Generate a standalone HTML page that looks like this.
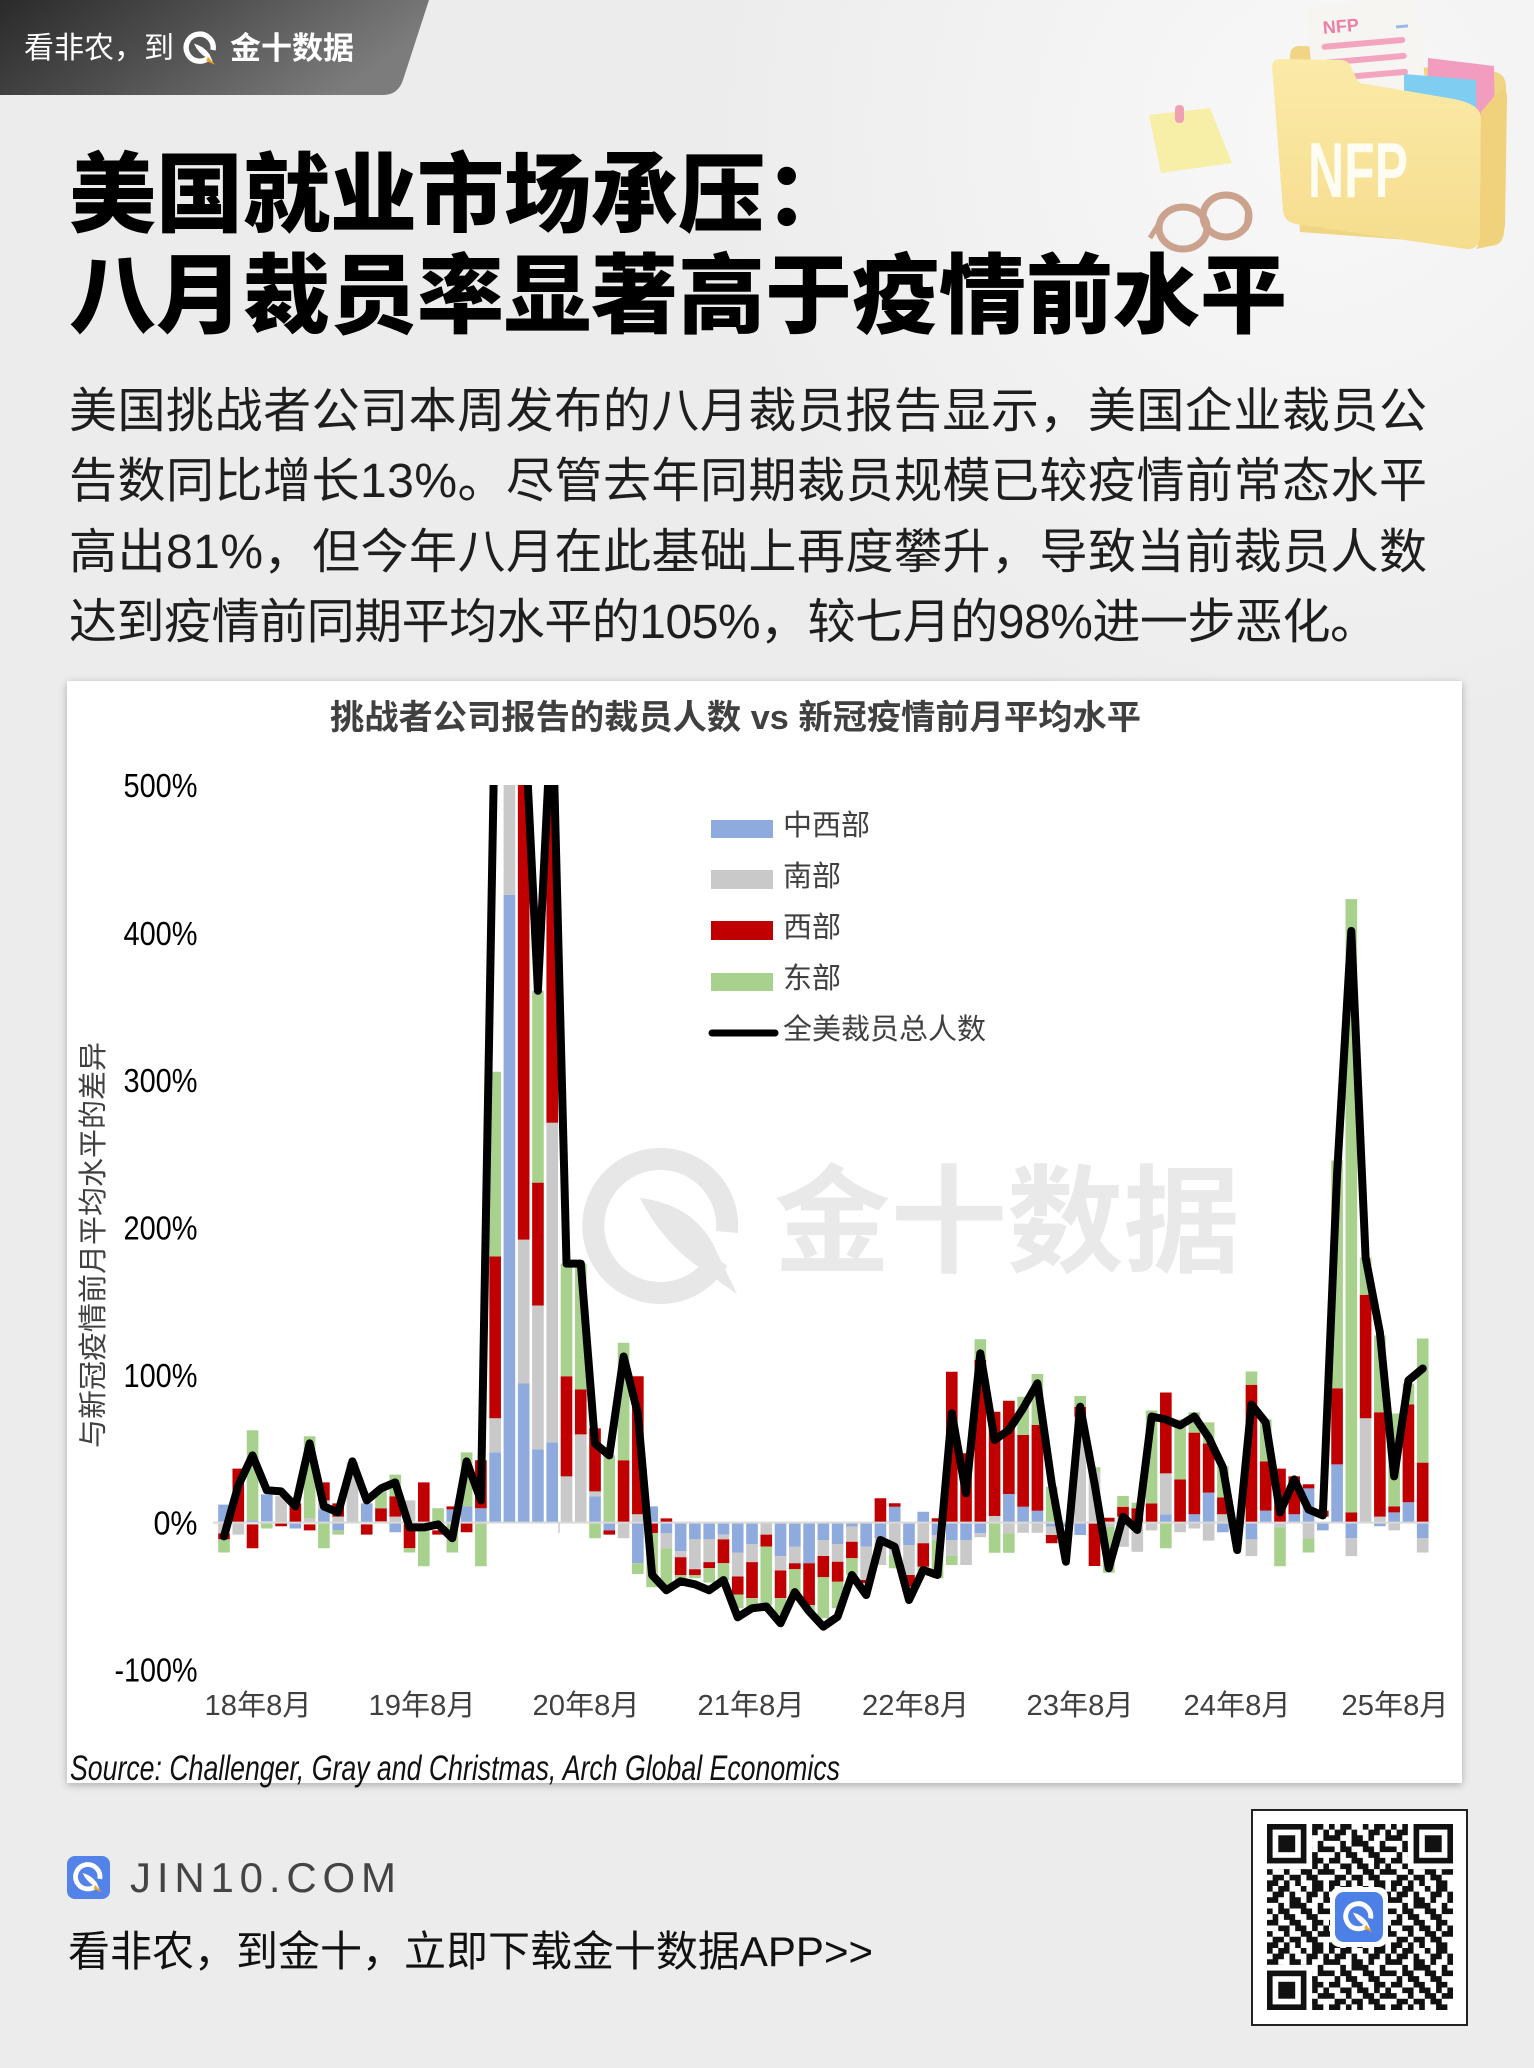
<!DOCTYPE html>
<html><head><meta charset="utf-8"><style>
html,body{margin:0;padding:0;background:#ececec;}
svg{display:block;}
</style></head><body>
<svg width="1534" height="2068" viewBox="0 0 1534 2068" xmlns="http://www.w3.org/2000/svg" font-family="'Liberation Sans','Noto Sans CJK SC',sans-serif">
<defs>
<radialGradient id="bgg" cx="1320" cy="130" r="620" gradientUnits="userSpaceOnUse">
<stop offset="0" stop-color="#f8f8f8"/><stop offset="0.6" stop-color="#f1f1f1"/><stop offset="1" stop-color="#ececec"/>
</radialGradient>
<linearGradient id="badge" x1="0" y1="0" x2="1" y2="0.3">
<stop offset="0" stop-color="#2a2a2a"/><stop offset="0.45" stop-color="#4d4d4d"/><stop offset="1" stop-color="#7c7c7c"/>
</linearGradient>
<linearGradient id="fold" x1="0" y1="0" x2="0" y2="1">
<stop offset="0" stop-color="#fbeaa8"/><stop offset="1" stop-color="#f6dd8e"/>
</linearGradient>
<filter id="sh" x="-5%" y="-5%" width="110%" height="110%">
<feDropShadow dx="0" dy="2" stdDeviation="4" flood-color="#000" flood-opacity="0.28"/>
</filter>
<clipPath id="pc"><rect x="200" y="785" width="1250" height="950"/></clipPath>
<pattern id="qr" patternUnits="userSpaceOnUse" x="1267" y="1824" width="62" height="62">
<path transform="scale(5.636)" fill="#111" d="M0 0h1v1h-1zM2 0h2v1h-2zM6 0h1v1h-1zM8 0h2v1h-2zM1 1h2v1h-2zM4 1h1v1h-1zM7 1h2v1h-2zM10 1h1v1h-1zM0 2h2v1h-2zM4 2h2v1h-2zM7 2h1v1h-1zM10 2h1v1h-1zM2 3h1v1h-1zM4 3h3v1h-3zM9 3h1v1h-1zM0 4h1v1h-1zM2 4h2v1h-2zM6 4h2v1h-2zM9 4h2v1h-2zM1 5h1v1h-1zM3 5h2v1h-2zM7 5h2v1h-2zM0 6h2v1h-2zM4 6h2v1h-2zM8 6h2v1h-2zM2 7h2v1h-2zM5 7h2v1h-2zM8 7h1v1h-1zM10 7h1v1h-1zM0 8h1v1h-1zM3 8h1v1h-1zM6 8h2v1h-2zM9 8h2v1h-2zM1 9h2v1h-2zM4 9h2v1h-2zM7 9h2v1h-2zM0 10h2v1h-2zM3 10h1v1h-1zM5 10h1v1h-1zM8 10h2v1h-2z"/>
</pattern>
</defs>

<!-- background -->
<rect x="0" y="0" width="1534" height="2068" fill="#ececec"/>
<rect x="0" y="0" width="1534" height="700" fill="url(#bgg)"/>

<!-- top badge -->
<path d="M0,0 H429 L403,80 Q398,95 383,95 H0 Z" fill="url(#badge)"/>
<text x="24" y="58" font-size="30" fill="#ffffff">看非农，到</text>
<svg x="180" y="28" width="41" height="41" viewBox="0 0 100 100">
<path d="M71.3,71.3 A33,33 0 1 1 80.5,53.7" fill="none" stroke="#fff" stroke-width="13"/>
<path d="M34,38 Q58,44 72,64 L80,82 L64,72 Q44,60 34,38 Z" fill="#fff"/>
<path d="M68,70 L86,90 L64,80 Z" fill="#f5a623"/>
</svg>
<text x="230" y="59" font-size="31" font-weight="bold" fill="#ffffff">金十数据</text>

<!-- illustration top right -->
<g>
<path d="M1290,56 Q1290,46 1300,46 L1330,47 Q1338,47 1342,55 L1346,63 L1490,71 Q1506,72 1506,87 L1504,232 Q1503,246 1490,246 L1300,232 Z" fill="#efd584"/>
<g transform="rotate(-5 1368 50)">
<rect x="1310" y="2" width="112" height="100" rx="4" fill="#f7f5f2"/>
<text x="1325" y="30" font-size="18" font-weight="bold" fill="#ec7fa6">NFP</text>
<rect x="1398" y="28" width="12" height="3" fill="#9ab8e8"/>
<rect x="1322" y="40" width="84" height="6" rx="3" fill="#f3a5c0"/>
<rect x="1322" y="56" width="84" height="6" rx="3" fill="#f3a5c0"/>
<rect x="1322" y="72" width="84" height="6" rx="3" fill="#f3a5c0"/>
</g>
<path d="M1428,58 L1494,66 L1496,230 L1424,228 Z" fill="#f29cbf"/>
<path d="M1404,74 L1476,80 L1478,228 L1404,226 Z" fill="#80cdf2"/>
<path d="M1272,66 Q1273,59 1280,59 L1340,60 Q1348,60 1351,67 L1357,80 Q1360,84 1366,84 L1448,98 Q1481,103 1481,118 L1480,236 Q1479,250 1466,249 L1296,224 Q1284,222 1283,210 Z" fill="url(#fold)"/>
<path d="M1481,112 L1498,92 Q1507,86 1507,98 L1505,226 Q1503,240 1490,246 L1476,249 Q1480,244 1480,236 Z" fill="#f0d27c"/>
<text x="1308" y="197" font-size="78" font-weight="bold" fill="#fffcf2" textLength="100" lengthAdjust="spacingAndGlyphs">NFP</text>
<path d="M1149,115 L1210,108 L1232,163 L1161,173 Z" fill="#f7eea8"/>
<rect x="1175" y="105" width="9" height="18" rx="4" fill="#f0a0b5"/>
<ellipse cx="1183" cy="228" rx="24" ry="21" fill="none" stroke="#caa28d" stroke-width="7"/>
<ellipse cx="1226" cy="216" rx="23" ry="21" fill="none" stroke="#caa28d" stroke-width="7"/>
<path d="M1206,224 Q1205,216 1203,214" fill="none" stroke="#caa28d" stroke-width="5"/>
<path d="M1160,222 L1150,238" stroke="#caa28d" stroke-width="5"/>
<path d="M1248,208 L1246,230" stroke="#caa28d" stroke-width="5"/>
</g>

<!-- title -->
<text x="69" y="225" font-size="87" font-weight="900" fill="#000">美国就业市场承压：</text>
<text x="69" y="326" font-size="87" font-weight="900" fill="#000">八月裁员率显著高于疫情前水平</text>

<!-- paragraph -->
<g font-size="48" fill="#1e1e1e">
<text x="69" y="427" textLength="1358" lengthAdjust="spacing">美国挑战者公司本周发布的八月裁员报告显示，美国企业裁员公</text>
<text x="69" y="497" textLength="1358" lengthAdjust="spacing">告数同比增长13%。尽管去年同期裁员规模已较疫情前常态水平</text>
<text x="69" y="568" textLength="1358" lengthAdjust="spacing">高出81%，但今年八月在此基础上再度攀升，导致当前裁员人数</text>
<text x="69" y="638" textLength="1309" lengthAdjust="spacing">达到疫情前同期平均水平的105%，较七月的98%进一步恶化。</text>
</g>

<!-- chart card -->
<rect x="67" y="681" width="1395" height="1102" fill="#ffffff" filter="url(#sh)"/>
<text x="735.5" y="729" font-size="34" font-weight="bold" fill="#404040" text-anchor="middle" textLength="811" lengthAdjust="spacingAndGlyphs">挑战者公司报告的裁员人数 vs 新冠疫情前月平均水平</text>

<!-- watermark -->
<g>
<path d="M718,1260 A67,67 0 1 1 727,1232" fill="none" stroke="#e7e7e7" stroke-width="22"/>
<path d="M640,1198 Q690,1204 712,1242 L737,1294 L700,1268 Q662,1242 640,1198 Z" fill="#e7e7e7"/>
<text x="774" y="1263" font-size="117" font-weight="bold" fill="#e9e9e9" textLength="466" lengthAdjust="spacingAndGlyphs">金十数据</text>
</g>

<!-- y axis labels -->
<g font-size="33" fill="#000" text-anchor="end">
<text x="197.5" y="797" textLength="74" lengthAdjust="spacingAndGlyphs">500%</text>
<text x="197.5" y="945" textLength="74" lengthAdjust="spacingAndGlyphs">400%</text>
<text x="197.5" y="1092" textLength="74" lengthAdjust="spacingAndGlyphs">300%</text>
<text x="197.5" y="1239.5" textLength="74" lengthAdjust="spacingAndGlyphs">200%</text>
<text x="197.5" y="1387" textLength="74" lengthAdjust="spacingAndGlyphs">100%</text>
<text x="197.5" y="1534.5" textLength="44" lengthAdjust="spacingAndGlyphs">0%</text>
<text x="197.5" y="1681.5" textLength="83" lengthAdjust="spacingAndGlyphs">-100%</text>
</g>
<text transform="translate(103,1245) rotate(-90)" font-size="29" fill="#404040" text-anchor="middle">与新冠疫情前月平均水平的差异</text>

<!-- x axis labels -->
<g font-size="29" fill="#404040" text-anchor="middle">
<text x="258" y="1715" textLength="107" lengthAdjust="spacingAndGlyphs">18年8月</text>
<text x="422" y="1715" textLength="107" lengthAdjust="spacingAndGlyphs">19年8月</text>
<text x="586" y="1715" textLength="107" lengthAdjust="spacingAndGlyphs">20年8月</text>
<text x="751" y="1715" textLength="107" lengthAdjust="spacingAndGlyphs">21年8月</text>
<text x="915.5" y="1715" textLength="107" lengthAdjust="spacingAndGlyphs">22年8月</text>
<text x="1080" y="1715" textLength="107" lengthAdjust="spacingAndGlyphs">23年8月</text>
<text x="1237" y="1715" textLength="107" lengthAdjust="spacingAndGlyphs">24年8月</text>
<text x="1395" y="1715" textLength="107" lengthAdjust="spacingAndGlyphs">25年8月</text>
</g>

<!-- bars & line -->
<g clip-path="url(#pc)">
<g transform="translate(218.2 0) scale(14.27 1)">
<path fill="#8faadc" d="M0 1504.6h.815v18h-.815zM2 1520.2h.815v2.4h-.815zM3 1494.4h.815v27h-.815zM5 1522.6h.815v5.9h-.815zM7 1509.4h.815v13.2h-.815zM8 1522.6h.815v7.8h-.815zM10 1503.4h.815v19.2h-.815zM12 1522.6h.815v9.6h-.815zM16 1509.4h.815v13.2h-.815zM17 1506.4h.815v16.2h-.815zM18 1508.2h.815v14.4h-.815zM19 1452.4h.815v70.2h-.815zM20 894.9h.815v627.7h-.815zM21 1383.5h.815v139.1h-.815zM22 1449.4h.815v73.2h-.815zM23 1442.2h.815v80.4h-.815zM26 1496.2h.815v26.4h-.815zM27 1522.6h.815v7.8h-.815zM29 1522.6h.815v40.7h-.815zM30 1506.4h.815v16.2h-.815zM31 1522.6h.815v10.8h-.815zM32 1522.6h.815v28.7h-.815zM33 1522.6h.815v16.8h-.815zM34 1522.6h.815v16.8h-.815zM35 1522.6h.815v12h-.815zM36 1522.6h.815v29.9h-.815zM37 1522.6h.815v21.6h-.815zM39 1522.6h.815v33.5h-.815zM40 1522.6h.815v23.9h-.815zM41 1522.6h.815v40.7h-.815zM42 1522.6h.815v17.4h-.815zM43 1522.6h.815v21.4h-.815zM44 1522.6h.815v4.1h-.815zM45 1522.6h.815v24.1h-.815zM46 1522.6h.815v15.7h-.815zM47 1506.7h.815v15.9h-.815zM48 1522.6h.815v22.4h-.815zM49 1511.7h.815v10.9h-.815zM50 1522.6h.815v12.4h-.815zM51 1522.6h.815v17.4h-.815zM52 1522.6h.815v17.4h-.815zM53 1522.6h.815v10.7h-.815zM55 1494h.815v28.6h-.815zM56 1506.7h.815v15.9h-.815zM57 1510.7h.815v11.9h-.815zM58 1522.6h.815v4.1h-.815zM59 1522.6h.815v4.1h-.815zM60 1522.6h.815v12.4h-.815zM66 1514.2h.815v8.4h-.815zM68 1514.2h.815v8.4h-.815zM69 1492.6h.815v30h-.815zM70 1522.6h.815v9.6h-.815zM72 1522.6h.815v16.8h-.815zM73 1510.6h.815v12h-.815zM75 1514.2h.815v8.4h-.815zM76 1488.4h.815v34.2h-.815zM77 1522.6h.815v7.8h-.815zM78 1464.4h.815v58.2h-.815zM79 1522.6h.815v15.6h-.815zM81 1522.6h.815v3.6h-.815zM82 1512.4h.815v10.2h-.815zM83 1502.2h.815v20.4h-.815zM84 1522.6h.815v15.6h-.815z"/>
<path fill="#c9c9c9" d="M0 1522.6h.815v10.8h-.815zM1 1522.6h.815v12h-.815zM4 1496.2h.815v26.4h-.815zM6 1518.4h.815v4.2h-.815zM7 1500.4h.815v9h-.815zM8 1516.6h.815v6h-.815zM9 1462h.815v60.6h-.815zM12 1516.6h.815v6h-.815zM13 1500.4h.815v21h-.815zM19 1418.3h.815v34.1h-.815zM20 700h.815v194.9h-.815zM21 1239.6h.815v143.9h-.815zM22 1305.5h.815v143.9h-.815zM23 1122.7h.815v319.5h-.815zM24 1476.4h.815v46.2h-.815zM25 1434.4h.815v88.2h-.815zM26 1491.4h.815v4.8h-.815zM28 1522.6h.815v15.6h-.815zM29 1514.2h.815v8.4h-.815zM31 1533.4h.815v14.9h-.815zM32 1551.3h.815v6h-.815zM33 1539.4h.815v29.9h-.815zM34 1539.4h.815v22.7h-.815zM35 1534.6h.815v4.8h-.815zM36 1552.5h.815v24h-.815zM37 1544.2h.815v17.9h-.815zM38 1522.6h.815v12h-.815zM39 1556.1h.815v14.4h-.815zM40 1546.5h.815v16.8h-.815zM42 1540h.815v16h-.815zM43 1544h.815v17.7h-.815zM44 1526.7h.815v15h-.815zM45 1546.7h.815v33.3h-.815zM46 1538.3h.815v26.7h-.815zM47 1522.6h.815v32.4h-.815zM48 1545h.815v30h-.815zM49 1522.6h.815v20.7h-.815zM50 1535h.815v5h-.815zM51 1540h.815v16h-.815zM52 1540h.815v25h-.815zM53 1533.3h.815v4h-.815zM54 1516h.815v6.6h-.815zM55 1522.6h.815v10.7h-.815zM56 1522.6h.815v10.1h-.815zM57 1522.6h.815v10.1h-.815zM58 1526.7h.815v8.3h-.815zM60 1416.7h.815v105.9h-.815zM61 1471.7h.815v50.9h-.815zM62 1522.6h.815v4.1h-.815zM63 1516.7h.815v30h-.815zM64 1522.6h.815v29.1h-.815zM65 1522.6h.815v7.8h-.815zM66 1473.4h.815v40.8h-.815zM67 1522.6h.815v9.6h-.815zM68 1522.6h.815v5.9h-.815zM69 1522.6h.815v18h-.815zM70 1514.2h.815v8.4h-.815zM71 1522.6h.815v7.8h-.815zM72 1539.4h.815v16.7h-.815zM74 1522.6h.815v4.8h-.815zM76 1522.6h.815v15.6h-.815zM79 1538.2h.815v17.9h-.815zM80 1418.3h.815v104.3h-.815zM81 1516.6h.815v6h-.815zM82 1522.6h.815v7.8h-.815zM84 1538.2h.815v14.3h-.815z"/>
<path fill="#c00000" d="M0 1533.4h.815v6h-.815zM1 1468.6h.815v54h-.815zM2 1524.4h.815v23.9h-.815zM4 1522.6h.815v3.6h-.815zM5 1503.4h.815v19.2h-.815zM6 1524.4h.815v6h-.815zM7 1482.4h.815v18h-.815zM8 1503.4h.815v13.2h-.815zM10 1524.4h.815v10.2h-.815zM11 1508.2h.815v13.2h-.815zM12 1496.2h.815v20.4h-.815zM13 1524.4h.815v23.9h-.815zM14 1482.4h.815v40.2h-.815zM15 1530.4h.815v4.2h-.815zM16 1506.4h.815v3h-.815zM17 1522.6h.815v9.6h-.815zM18 1460.2h.815v48h-.815zM19 1256.4h.815v161.9h-.815zM21 700h.815v539.6h-.815zM22 1182.6h.815v122.9h-.815zM23 700h.815v422.7h-.815zM24 1376.3h.815v100.1h-.815zM25 1389.5h.815v44.9h-.815zM26 1428.4h.815v63h-.815zM27 1530.4h.815v4.2h-.815zM28 1460.2h.815v62.4h-.815zM29 1376.3h.815v137.9h-.815zM30 1522.6h.815v10.4h-.815zM31 1518.4h.815v4.2h-.815zM32 1557.3h.815v18h-.815zM33 1569.3h.815v6h-.815zM34 1562.1h.815v6h-.815zM35 1539.4h.815v23.9h-.815zM36 1576.5h.815v18h-.815zM37 1562.1h.815v36h-.815zM38 1534.6h.815v11.9h-.815zM39 1570.5h.815v27.6h-.815zM40 1563.3h.815v6h-.815zM41 1563.3h.815v42h-.815zM42 1556h.815v21.3h-.815zM43 1561.7h.815v20h-.815zM44 1541.7h.815v16.6h-.815zM45 1580h.815v3.3h-.815zM46 1498.3h.815v24.3h-.815zM47 1503.3h.815v3.4h-.815zM48 1575h.815v11.7h-.815zM49 1543.3h.815v23.4h-.815zM50 1518.3h.815v4.3h-.815zM51 1371.7h.815v150.9h-.815zM52 1453.3h.815v69.3h-.815zM53 1360h.815v162.6h-.815zM54 1411.7h.815v104.3h-.815zM55 1400.7h.815v93.3h-.815zM56 1435h.815v71.7h-.815zM57 1425h.815v85.7h-.815zM58 1535h.815v8.3h-.815zM60 1406.7h.815v10h-.815zM61 1522.6h.815v43.4h-.815zM62 1517.7h.815v4.9h-.815zM63 1506.7h.815v10h-.815zM64 1508.3h.815v14.3h-.815zM65 1503.4h.815v19.2h-.815zM66 1392.5h.815v80.9h-.815zM67 1479.4h.815v43.2h-.815zM68 1432.6h.815v81.6h-.815zM69 1443.4h.815v49.2h-.815zM70 1497.4h.815v16.8h-.815zM72 1384.7h.815v137.9h-.815zM73 1461.4h.815v49.2h-.815zM74 1468.6h.815v54h-.815zM75 1476.4h.815v37.8h-.815zM76 1484.2h.815v4.2h-.815zM77 1510.6h.815v6h-.815zM78 1388.3h.815v76.1h-.815zM79 1512.4h.815v10.2h-.815zM80 1294.8h.815v123.5h-.815zM81 1412.3h.815v104.3h-.815zM82 1506.4h.815v6h-.815zM83 1404.5h.815v97.7h-.815zM84 1462.6h.815v60h-.815z"/>
<path fill="#a9d18e" d="M0 1539.4h.815v13.1h-.815zM2 1430.3h.815v89.9h-.815zM3 1522.6h.815v5.9h-.815zM6 1436.2h.815v82.2h-.815zM7 1522.6h.815v25.7h-.815zM8 1530.4h.815v4.2h-.815zM11 1491.4h.815v16.8h-.815zM12 1474.6h.815v21.6h-.815zM13 1548.3h.815v4.2h-.815zM14 1522.6h.815v43.7h-.815zM15 1508.2h.815v14.4h-.815zM16 1522.6h.815v29.9h-.815zM17 1452.4h.815v54h-.815zM18 1522.6h.815v43.7h-.815zM19 1071.7h.815v184.7h-.815zM22 990.8h.815v191.8h-.815zM24 1263.6h.815v112.7h-.815zM25 1263.6h.815v125.9h-.815zM26 1522.6h.815v15.6h-.815zM27 1455.4h.815v67.2h-.815zM28 1342.7h.815v117.5h-.815zM29 1563.3h.815v10.8h-.815zM30 1533h.815v54.3h-.815zM31 1548.3h.815v39h-.815zM32 1575.3h.815v7.2h-.815zM33 1575.3h.815v3h-.815zM34 1568.1h.815v14.4h-.815zM35 1563.3h.815v16.8h-.815zM36 1594.5h.815v13.8h-.815zM37 1598.1h.815v8.4h-.815zM38 1546.5h.815v58.8h-.815zM39 1598.1h.815v16.2h-.815zM40 1569.3h.815v24h-.815zM41 1605.3h.815v6h-.815zM42 1577.3h.815v41h-.815zM43 1581.7h.815v26.6h-.815zM44 1558.3h.815v16.7h-.815zM47 1555h.815v13.3h-.815zM49 1566.7h.815v5h-.815zM50 1540h.815v38.3h-.815zM51 1556h.815v9h-.815zM53 1339.3h.815v20.7h-.815zM54 1522.6h.815v30.1h-.815zM55 1533.3h.815v19.4h-.815zM56 1396.7h.815v38.3h-.815zM57 1374h.815v51h-.815zM58 1486.7h.815v35.9h-.815zM60 1396h.815v10.7h-.815zM61 1467.3h.815v4.4h-.815zM62 1526.7h.815v46h-.815zM63 1496h.815v10.7h-.815zM64 1502.7h.815v5.6h-.815zM65 1410.5h.815v92.9h-.815zM66 1522.6h.815v25.7h-.815zM67 1419.5h.815v59.9h-.815zM68 1412.3h.815v20.3h-.815zM69 1422.4h.815v21h-.815zM70 1466.2h.815v31.2h-.815zM72 1371.5h.815v13.2h-.815zM73 1419.5h.815v42h-.815zM74 1527.4h.815v38.9h-.815zM76 1538.2h.815v14.3h-.815zM78 1160.5h.815v227.8h-.815zM79 899.1h.815v613.3h-.815zM80 1257.6h.815v37.2h-.815zM81 1335.5h.815v76.8h-.815zM82 1413.5h.815v92.9h-.815zM83 1383.5h.815v21h-.815zM84 1338.5h.815v124.1h-.815z"/>
</g>
<line x1="213" y1="1522.6" x2="1430" y2="1522.6" stroke="#d9d9d9" stroke-width="2"/>
<line x1="559" y1="1523" x2="559" y2="1533" stroke="#d9d9d9" stroke-width="2"/>
<polyline fill="none" stroke="#000" stroke-width="8" stroke-linejoin="round" stroke-linecap="round" points="224,1536.4 238.3,1485.4 252.5,1455.4 266.8,1490.2 281.1,1491.4 295.4,1506.4 309.6,1443.4 323.9,1506.4 338.2,1512.4 352.4,1461.4 366.7,1500.4 381,1488.4 395.2,1482.4 409.5,1527.4 423.8,1527.4 438.1,1524.4 452.3,1538.2 466.6,1461.4 480.9,1500.4 495.1,700 509.4,700 523.7,700 537.9,990.8 552.2,700 566.5,1263.6 580.8,1263.6 595,1443.4 609.3,1455.4 623.6,1356.5 637.8,1413.5 652.1,1575 666.4,1590.3 680.6,1581.3 694.9,1584.3 709.2,1590.3 723.5,1580.1 737.7,1617.3 752,1608.3 766.3,1606.5 780.5,1623.3 794.8,1592.1 809.1,1611.3 823.3,1626.7 837.6,1616.7 851.9,1575 866.2,1595 880.4,1540 894.7,1546.7 909,1600 923.2,1570 937.5,1575 951.8,1413.3 966,1493.3 980.3,1353.3 994.6,1440 1008.9,1430 1023.1,1408.3 1037.4,1383.3 1051.7,1483.3 1065.9,1561.7 1080.2,1406.7 1094.5,1483.3 1108.7,1568.3 1123,1516.7 1137.3,1530 1151.6,1416.5 1165.8,1419.5 1180.1,1425.4 1194.4,1416.5 1208.6,1437.4 1222.9,1467.4 1237.2,1550.1 1251.4,1404.5 1265.7,1422.4 1280,1512.4 1294.3,1479.4 1308.5,1509.4 1322.8,1515.4 1337.1,1173.7 1351.3,930.9 1365.6,1257.6 1379.9,1332.5 1394.1,1476.4 1408.4,1380.5 1422.7,1368.5"/>
</g>

<!-- legend -->
<rect x="711" y="820" width="62" height="18" fill="#8faadc"/>
<rect x="711" y="870" width="62" height="19" fill="#c9c9c9"/>
<rect x="711" y="921" width="62" height="19" fill="#c00000"/>
<rect x="711" y="973" width="62" height="18" fill="#a9d18e"/>
<line x1="712" y1="1033" x2="775" y2="1033" stroke="#000" stroke-width="7" stroke-linecap="round"/>
<g font-size="29" fill="#404040">
<text x="783" y="835">中西部</text>
<text x="783" y="886">南部</text>
<text x="783" y="937">西部</text>
<text x="783" y="988">东部</text>
<text x="783" y="1039">全美裁员总人数</text>
</g>

<!-- source -->
<text x="70" y="1780" font-size="35" font-style="italic" fill="#111" textLength="770" lengthAdjust="spacingAndGlyphs">Source: Challenger, Gray and Christmas, Arch Global Economics</text>

<!-- footer -->
<rect x="67" y="1856" width="43" height="43" rx="8" fill="#5383e8"/>
<svg x="70" y="1859" width="37" height="37" viewBox="0 0 100 100">
<path d="M71.3,71.3 A33,33 0 1 1 80.5,53.7" fill="none" stroke="#fff" stroke-width="13"/>
<path d="M34,38 Q58,44 72,64 L80,82 L64,72 Q44,60 34,38 Z" fill="#fff"/>
<path d="M68,70 L86,90 L64,80 Z" fill="#f5a623"/>
</svg>
<text x="130" y="1892" font-size="42" fill="#444" textLength="266" lengthAdjust="spacing">JIN10.COM</text>
<text x="68" y="1966" font-size="42" fill="#111" textLength="805" lengthAdjust="spacingAndGlyphs">看非农，到金十，立即下载金十数据APP&gt;&gt;</text>

<!-- QR -->
<rect x="1252" y="1810" width="215" height="215" fill="#fff" stroke="#222" stroke-width="2"/>
<rect x="1267" y="1824" width="186" height="186" fill="url(#qr)"/>
<g>
<rect x="1267" y="1824" width="45.1" height="45.1" fill="#fff"/>
<rect x="1267" y="1824" width="39.45" height="39.45" fill="#111"/>
<rect x="1272.6" y="1829.6" width="28.2" height="28.2" fill="#fff"/>
<rect x="1278.3" y="1835.3" width="16.9" height="16.9" fill="#111"/>
<rect x="1407.9" y="1824" width="45.1" height="45.1" fill="#fff"/>
<rect x="1413.55" y="1824" width="39.45" height="39.45" fill="#111"/>
<rect x="1419.2" y="1829.6" width="28.2" height="28.2" fill="#fff"/>
<rect x="1424.8" y="1835.3" width="16.9" height="16.9" fill="#111"/>
<rect x="1267" y="1964.9" width="45.1" height="45.1" fill="#fff"/>
<rect x="1267" y="1970.55" width="39.45" height="39.45" fill="#111"/>
<rect x="1272.6" y="1976.2" width="28.2" height="28.2" fill="#fff"/>
<rect x="1278.3" y="1981.8" width="16.9" height="16.9" fill="#111"/>
</g>
<rect x="1330" y="1887" width="58" height="60" rx="10" fill="#fff"/>
<rect x="1335" y="1892" width="48" height="50" rx="9" fill="#4c80e6"/>
<svg x="1340" y="1898" width="38" height="38" viewBox="0 0 100 100">
<path d="M71.3,71.3 A33,33 0 1 1 80.5,53.7" fill="none" stroke="#fff" stroke-width="13"/>
<path d="M34,38 Q58,44 72,64 L80,82 L64,72 Q44,60 34,38 Z" fill="#fff"/>
<path d="M68,70 L86,90 L64,80 Z" fill="#f5a623"/>
</svg>
</svg>
</body></html>
